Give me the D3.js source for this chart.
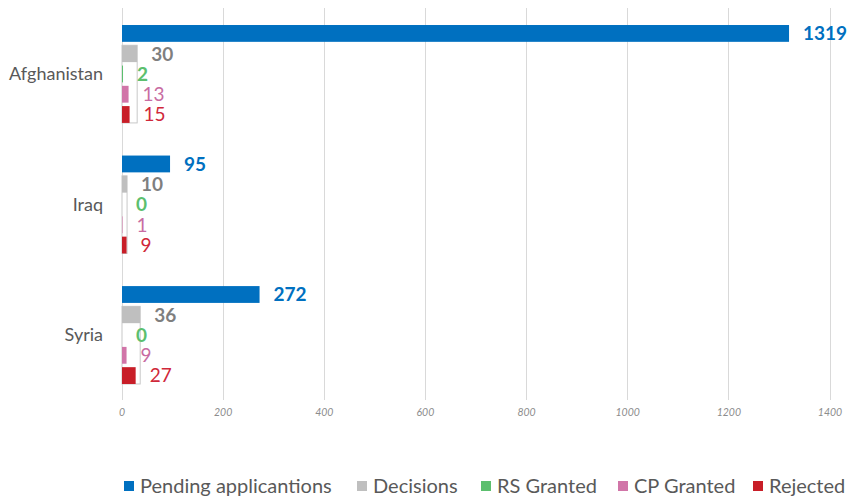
<!DOCTYPE html>
<html><head><meta charset="utf-8">
<script src="https://cdn.jsdelivr.net/npm/d3@7"></script>
<style>body{margin:0;background:#fff}svg{display:block}</style>
</head><body><svg id="c" width="855" height="497"></svg>
<script>
const categories = ["Afghanistan","Iraq","Syria"];
const seriesNames = ["Pending applicantions","Decisions","RS Granted","CP Granted","Rejected"];
const pending = [1319, 95, 272];
const decisions = [30, 10, 36];
const rsGranted = [2, 0, 0];
const cpGranted = [13, 1, 9];
const rejected = [15, 9, 27];
const xTicks = [0,200,400,600,800,1000,1200,1400];

const values = [pending, decisions, rsGranted, cpGranted, rejected];
const barColors = ["#0070c0","#bfbfbf","#5cbf6e","#d175a8","#c81e28"];
const labelColors = ["#0070c0","#7f7f7f","#5cbf6e","#c86ca2","#d0283a"];
const labelWeights = ["bold","bold","bold","normal","normal"];

const svg = d3.select("#c");
const x = d3.scaleLinear().domain([0,1400]).range([122,830]);
const y = d3.scaleBand().domain(categories).range([10,399]).paddingInner(0.25).paddingOuter(0.115);
const yi = d3.scaleBand().domain(seriesNames).range([0,y.bandwidth()]).paddingInner(0.17).paddingOuter(0);

// gridlines
svg.append("g").selectAll("line").data(xTicks).join("line")
  .attr("x1",d=>x(d)).attr("x2",d=>x(d)).attr("y1",8).attr("y2",400)
  .attr("stroke","#d9d9d9").attr("stroke-width",1).attr("shape-rendering","crispEdges");

// tick labels
svg.append("g").selectAll("text").data(xTicks).join("text")
  .attr("x",d=>x(d)).attr("y",416).attr("text-anchor","middle")
  .attr("font-family","Lato, 'Open Sans', sans-serif").attr("font-style","italic")
  .attr("font-size",10.5).attr("fill","#8c8c8c").text(d=>d);

// category labels
svg.append("g").selectAll("text").data(categories).join("text")
  .attr("x",103).attr("y",d=>y(d)+y.bandwidth()/2).attr("dy","0.35em")
  .attr("text-anchor","end").attr("font-family","Lato, sans-serif")
  .attr("font-size",18).attr("fill","#595959").text(d=>d);

const groups = svg.append("g").selectAll("g").data(categories).join("g")
  .attr("transform",d=>`translate(0,${y(d)})`);

// decisions outline box enclosing the breakdown bars
groups.append("rect")
  .attr("x",x(0)).attr("y",yi(seriesNames[1]))
  .attr("width",(d,i)=>x(decisions[i])-x(0))
  .attr("height",yi(seriesNames[4])+yi.bandwidth()-yi(seriesNames[1]))
  .attr("fill","#fff").attr("stroke","#c8c8c8").attr("stroke-width",1);

// bars
seriesNames.forEach((s,si)=>{
  groups.append("rect")
    .attr("x",x(0)).attr("y",yi(s))
    .attr("width",(d,i)=>x(values[si][i])-x(0))
    .attr("height",yi.bandwidth())
    .attr("fill",barColors[si]);
});

// value labels
seriesNames.forEach((s,si)=>{
  groups.append("text")
    .attr("x",(d,i)=>x(values[si][i])+14)
    .attr("y",yi(s)+yi.bandwidth()/2).attr("dy","0.36em")
    .attr("font-family","Lato, sans-serif").attr("font-size",19)
    .attr("font-weight",labelWeights[si]).attr("fill",labelColors[si])
    .text((d,i)=>values[si][i]);
});

// legend
const legX = [124,357,481,618,753];
const leg = svg.append("g").selectAll("g").data(seriesNames).join("g")
  .attr("transform",(d,i)=>`translate(${legX[i]},486)`);
leg.append("rect").attr("x",0).attr("y",-5).attr("width",10).attr("height",10)
  .attr("fill",(d,i)=>barColors[i]);
leg.append("text").attr("x",16).attr("y",0).attr("dy","0.35em")
  .attr("font-family","Lato, sans-serif").attr("font-size",20).attr("fill","#595959")
  .text(d=>d);
</script></body></html>
